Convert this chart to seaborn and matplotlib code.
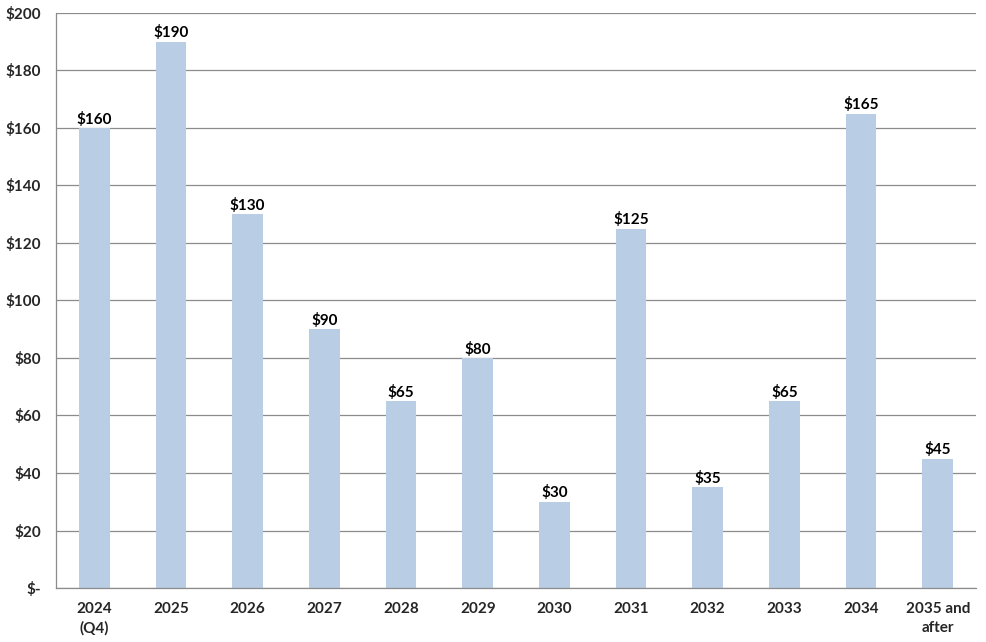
import numpy as np
import pandas as pd
import seaborn as sns
import matplotlib.pyplot as plt
from matplotlib.ticker import FixedLocator

# Amounts by year (in $)
years = ['2024\n(Q4)', '2025', '2026', '2027', '2028', '2029', '2030',
         '2031', '2032', '2033', '2034', '2035 and\nafter']
amounts = [160, 190, 130, 90, 65, 80, 30, 125, 35, 65, 165, 45]
y_ticks = [0, 20, 40, 60, 80, 100, 120, 140, 160, 180, 200]
y_labels = ['$-' if v == 0 else f'${v}' for v in y_ticks]

df = pd.DataFrame({'year': years, 'amount': amounts})

sns.set_style("white")
plt.rcParams['font.family'] = ['Lato', 'DejaVu Sans']
plt.rcParams['font.weight'] = 'bold'

fig = plt.figure(figsize=(9.86, 6.42), dpi=100)
ax = fig.add_axes([0.0568, 0.0841, 0.9331, 0.8957])

sns.barplot(data=df, x='year', y='amount', color='#B9CDE5', saturation=1,
            width=0.4, linewidth=0, ax=ax)

# value labels on top of bars
ax.bar_label(ax.containers[0], labels=[f'${v}' for v in amounts],
             padding=1, fontsize=11, fontweight='bold', color='black')

ax.set_ylim(0, 200)
ax.set_xlim(-0.5, len(years) - 0.5)
ax.set_yticks(y_ticks)
ax.set_yticklabels(y_labels, fontsize=11, fontweight='bold')
ax.set_xticks(range(len(years)))
ax.set_xticklabels(years, fontsize=11, fontweight='bold', linespacing=1.45)
ax.yaxis.grid(True, color='#8c8c8c', linewidth=0.9)
ax.set_axisbelow(True)

# tick marks between categories, like a spreadsheet chart
ax.xaxis.set_minor_locator(FixedLocator(np.arange(-0.5, len(years), 1.0)))
ax.tick_params(axis='x', which='major', length=0, pad=10)
ax.tick_params(axis='x', which='minor', length=5, width=0.9, color='#8c8c8c', direction='out')
ax.tick_params(axis='y', length=5, width=0.9, color='#8c8c8c', direction='out', pad=6)

ax.set_xlabel('')
ax.set_ylabel('')
for side in ['top', 'right']:
    ax.spines[side].set_visible(False)
for side in ['left', 'bottom']:
    ax.spines[side].set_color('#8c8c8c')
    ax.spines[side].set_linewidth(0.9)

fig.savefig('out.png', dpi=100)
